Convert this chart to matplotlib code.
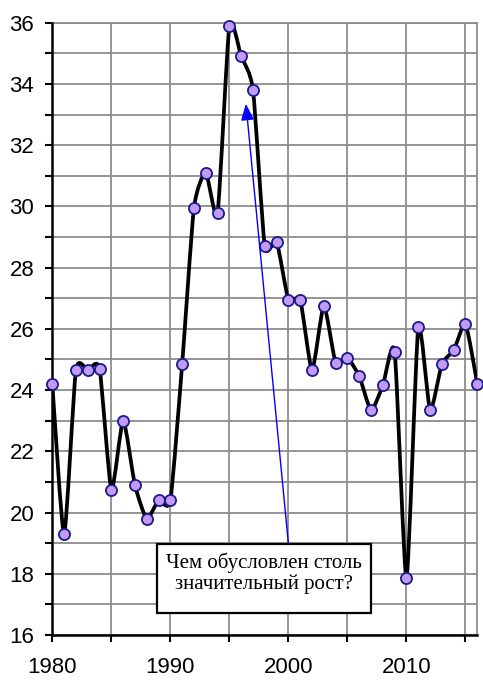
import numpy as np
import matplotlib
matplotlib.use('Agg')
import matplotlib.pyplot as plt
from matplotlib.path import Path
from matplotlib.patches import PathPatch, Rectangle

years = list(range(1980, 2017))
values = [24.2, 19.3, 24.65, 24.65, 24.7, 20.75, 23.0, 20.9, 19.8, 20.4,
          20.4, 24.85, 29.95, 31.1, 29.8, 35.9, 34.9, 33.8, 28.7, 28.85,
          26.95, 26.95, 24.65, 26.75, 24.9, 25.05, 24.45, 23.35, 24.15, 25.25,
          17.85, 26.05, 23.35, 24.85, 25.3, 26.15, 24.2]

note_text = "Чем обусловлен столь\nзначительный рост?"
note_box = (1988.9, 16.72, 18.1, 2.26)   # x, y, width, height in data units
note_center = (1997.95, 18.03)
arrow_tail = (2000.0, 18.98)
arrow_head = (1996.4, 33.35)


def smooth_path(x, y, k=10.0):
    # smoothed line, catmull-rom style segments as cubic beziers (low tension)
    pts = np.column_stack([x, y]).astype(float)
    n = len(pts)
    verts = [pts[0]]
    codes = [Path.MOVETO]
    for i in range(n - 1):
        p0 = pts[max(i - 1, 0)]
        p1 = pts[i]
        p2 = pts[i + 1]
        p3 = pts[min(i + 2, n - 1)]
        c1 = p1 + (p2 - p0) / k
        c2 = p2 - (p3 - p1) / k
        verts += [c1, c2, p2]
        codes += [Path.CURVE4] * 3
    return Path(verts, codes)


fig = plt.figure(figsize=(4.83, 6.80), dpi=100)
ax = fig.add_axes([0.1083, 0.0662, 0.8799, 0.9004])

ax.set_xlim(1980, 2016)
ax.set_ylim(16, 36)

ax.set_xticks(range(1980, 2016, 10))
ax.set_xticks(range(1985, 2016, 10), minor=True)
ax.set_yticks(range(16, 37, 2))
ax.set_yticks(range(17, 36, 2), minor=True)

ax.grid(True, which='both', color='#8c8c8c', linewidth=1.3)
ax.set_axisbelow(True)

for side in ['top', 'right']:
    ax.spines[side].set_color('#8c8c8c')
    ax.spines[side].set_linewidth(1.3)
for side in ['left', 'bottom']:
    ax.spines[side].set_color('black')
    ax.spines[side].set_linewidth(1.8)
    ax.spines[side].set_zorder(4)

ax.tick_params(which='both', direction='out', length=5, width=1.5, color='black')
ax.tick_params(axis='y', pad=8, labelsize=16)
ax.tick_params(axis='x', pad=11, labelsize=16)
for lab in ax.get_xticklabels() + ax.get_yticklabels():
    lab.set_fontfamily('Liberation Sans')

ax.add_patch(PathPatch(smooth_path(years, values), facecolor='none',
                       edgecolor='black', linewidth=2.7, zorder=3,
                       capstyle='round', joinstyle='round'))
ax.plot(years, values, linestyle='none', marker='o', markersize=8,
        markerfacecolor='#c39af2', markeredgecolor='#1a1a8c',
        markeredgewidth=1.3, zorder=5, clip_on=False)

ax.add_patch(Rectangle((note_box[0], note_box[1]), note_box[2], note_box[3],
                       facecolor='white', edgecolor='black', linewidth=1.6,
                       zorder=6))
ax.text(note_center[0], note_center[1], note_text,
        ha='center', va='center', fontsize=15, family='Liberation Serif',
        linespacing=1.1, zorder=7)

ax.annotate('', xy=arrow_head, xytext=arrow_tail,
            arrowprops=dict(arrowstyle='-|>,head_length=1.0,head_width=0.4',
                            mutation_scale=10, color='blue', lw=1.0,
                            shrinkA=0, shrinkB=0),
            zorder=6)

fig.savefig('out.png', dpi=100)
